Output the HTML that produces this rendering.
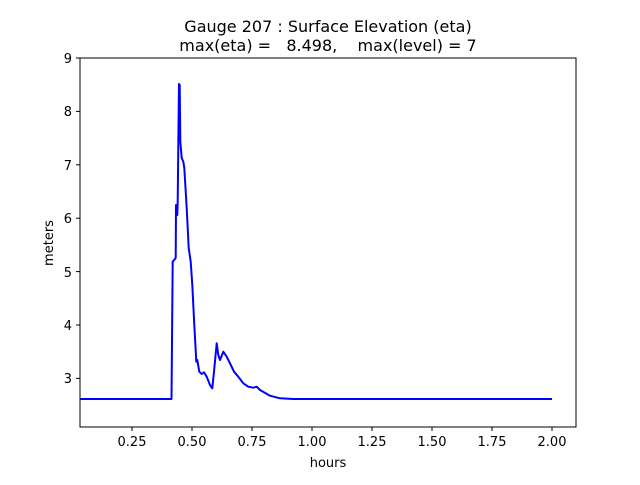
<!DOCTYPE html>
<html><head><meta charset="utf-8"><style>body{margin:0;background:#fff}</style></head><body>
<svg width="640" height="480" xmlns="http://www.w3.org/2000/svg" font-family="DejaVu Sans, Liberation Sans, sans-serif">
<rect width="640" height="480" fill="#fff"/>
<text x="328" y="32" font-size="16" text-anchor="middle">Gauge 207 : Surface Elevation (eta)</text>
<text x="328" y="51" font-size="16" text-anchor="middle" xml:space="preserve">max(eta) =   8.498,    max(level) = 7</text>
<polyline fill="none" stroke="#0000ff" stroke-width="2" stroke-linejoin="round" points="80,399 171.5,399 172.7,261.7 175.7,258 176,205 177.3,215 177.7,201.7 178.3,145 179,84 179.7,85 180.3,141.7 181.7,158 183.3,161.7 184.3,168 186.7,208 188.7,248 190.7,261.7 192.3,285 194.3,325 196.3,361.7 197.3,360 199.3,371.7 201.7,374 204,372.3 206.7,376.7 210,385 212.3,388.3 214,371.7 216.7,343.3 218.3,355 220,360 223.3,351.7 226.7,356.7 230,363.3 234,371.7 238.3,376.7 243.3,383.3 248.3,386.7 253.3,387.7 256.7,386.7 260,390 270,395.7 280,398.3 293.3,399 552,399"/>
<rect x="80" y="58" width="496" height="369" fill="none" stroke="#000" stroke-width="1"/>
<g stroke="#000" stroke-width="1">
<line x1="76" y1="58" x2="80" y2="58"/><line x1="76" y1="111.4" x2="80" y2="111.4"/><line x1="76" y1="164.8" x2="80" y2="164.8"/><line x1="76" y1="218.2" x2="80" y2="218.2"/><line x1="76" y1="271.6" x2="80" y2="271.6"/><line x1="76" y1="325" x2="80" y2="325"/><line x1="76" y1="378.4" x2="80" y2="378.4"/>
<line x1="132" y1="427" x2="132" y2="431"/><line x1="192" y1="427" x2="192" y2="431"/><line x1="252" y1="427" x2="252" y2="431"/><line x1="312" y1="427" x2="312" y2="431"/><line x1="372" y1="427" x2="372" y2="431"/><line x1="432" y1="427" x2="432" y2="431"/><line x1="492" y1="427" x2="492" y2="431"/><line x1="552" y1="427" x2="552" y2="431"/>
</g>
<g font-size="13" text-anchor="end">
<text x="72" y="63">9</text><text x="72" y="116">8</text><text x="72" y="170">7</text><text x="72" y="223">6</text><text x="72" y="277">5</text><text x="72" y="330">4</text><text x="72" y="383">3</text>
</g>
<g font-size="13" text-anchor="middle">
<text x="132" y="446">0.25</text><text x="192" y="446">0.50</text><text x="252" y="446">0.75</text><text x="312" y="446">1.00</text><text x="372" y="446">1.25</text><text x="432" y="446">1.50</text><text x="492" y="446">1.75</text><text x="552" y="446">2.00</text>
</g>
<text x="328" y="467" font-size="13" text-anchor="middle">hours</text>
<text transform="translate(53,243) rotate(-90)" font-size="13" text-anchor="middle">meters</text>
</svg>
</body></html>
